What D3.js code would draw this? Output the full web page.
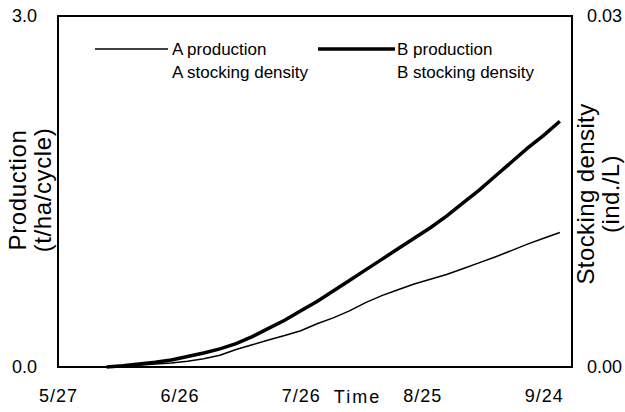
<!DOCTYPE html>
<html>
<head>
<meta charset="utf-8">
<script src="https://cdn.jsdelivr.net/npm/d3@7"></script>
<style>
  html, body { margin: 0; padding: 0; background: #fff; }
  svg { display: block; font-family: "Liberation Sans", Arial, sans-serif; }
</style>
</head>
<body>
<div id="chart"></div>
<script>
// Days elapsed since 5/27
const days = [12, 16, 20, 24, 28, 32, 36, 40, 44, 48, 52, 56, 60, 64, 68, 72, 76, 80, 84, 88, 92, 96, 100, 104, 108, 112, 116, 120, 124];

// Production (t/ha/cycle)
const productionA = [0.00, 0.005, 0.015, 0.025, 0.035, 0.05, 0.07, 0.10, 0.15, 0.19, 0.23, 0.27, 0.31, 0.37, 0.42, 0.48, 0.55, 0.61, 0.66, 0.71, 0.75, 0.79, 0.84, 0.89, 0.94, 0.995, 1.05, 1.10, 1.15];
const productionB = [0.00, 0.01, 0.025, 0.04, 0.06, 0.09, 0.12, 0.155, 0.20, 0.26, 0.33, 0.40, 0.48, 0.56, 0.65, 0.74, 0.83, 0.92, 1.01, 1.10, 1.19, 1.29, 1.40, 1.51, 1.63, 1.75, 1.87, 1.98, 2.10];

// Axis ticks
const xTickDays = [0, 30, 60, 90, 120];
const xTickLabels = ["5/27", "6/26", "7/26", "8/25", "9/24"];
const yLeftTicks = [0, 3];
const yRightTicks = [0, 0.03];

const legendLabels = ["A production", "B production", "A stocking density", "B stocking density"];

const W = 625, H = 412;
const m = { left: 58, right: 53, top: 16, bottom: 45 };

const svg = d3.select("#chart").append("svg")
  .attr("width", W).attr("height", H);

const x = d3.scaleLinear().domain([0, 127]).range([m.left, W - m.right]);
const y = d3.scaleLinear().domain([0, 3]).range([H - m.bottom, m.top]);
const y2 = d3.scaleLinear().domain([0, 0.03]).range([H - m.bottom, m.top]);

// Left axis labels
const gL = svg.append("g").attr("transform", `translate(${m.left},0)`)
  .call(d3.axisLeft(y).tickValues(yLeftTicks).tickFormat(d3.format(".1f")).tickSize(0).tickPadding(21));
gL.select(".domain").remove();
gL.selectAll("text").attr("font-size", 18).attr("font-family", "Liberation Sans, Arial, sans-serif").attr("fill", "#000");

// Right axis labels
const gR = svg.append("g").attr("transform", `translate(${W - m.right},0)`)
  .call(d3.axisRight(y2).tickValues(yRightTicks).tickFormat(d3.format(".2f")).tickSize(0).tickPadding(15));
gR.select(".domain").remove();
gR.selectAll("text").attr("font-size", 18).attr("font-family", "Liberation Sans, Arial, sans-serif").attr("fill", "#000");

// Bottom axis labels
const gB = svg.append("g").attr("transform", `translate(0,${H - m.bottom})`)
  .call(d3.axisBottom(x).tickValues(xTickDays).tickFormat((d, i) => xTickLabels[i]).tickSize(0).tickPadding(22));
gB.select(".domain").remove();
gB.selectAll("text").attr("font-size", 18).attr("letter-spacing", 1).attr("font-family", "Liberation Sans, Arial, sans-serif").attr("fill", "#000");

svg.append("text")
  .attr("x", (x(60) + x(90)) / 2 - 4).attr("y", 403)
  .attr("text-anchor", "middle").attr("font-size", 18).attr("letter-spacing", 2)
  .text("Time");

// Plot frame
svg.append("rect")
  .attr("x", m.left).attr("y", m.top)
  .attr("width", W - m.left - m.right).attr("height", H - m.top - m.bottom)
  .attr("fill", "none").attr("stroke", "#000").attr("stroke-width", 2);

// Axis titles
const leftT = svg.append("text")
  .attr("transform", `translate(26,190) rotate(-90)`)
  .attr("text-anchor", "middle").attr("font-size", 24).attr("letter-spacing", 0.6);
leftT.append("tspan").attr("x", 0).attr("y", 0).text("Production");
leftT.append("tspan").attr("x", 0).attr("y", 25).text("(t/ha/cycle)");

const rightT = svg.append("text")
  .attr("transform", `translate(594,194) rotate(-90)`)
  .attr("text-anchor", "middle").attr("font-size", 24).attr("letter-spacing", 0.4);
rightT.append("tspan").attr("x", 0).attr("y", 0).text("Stocking density");
rightT.append("tspan").attr("x", 0).attr("y", 25).text("(ind./L)");

// Production lines
const line = vals => d3.line()
  .x((d, i) => x(days[i]))
  .y(d => y(d))
  .curve(d3.curveLinear)(vals);

svg.append("path").attr("d", line(productionA))
  .attr("fill", "none").attr("stroke", "#000").attr("stroke-width", 1.5);
svg.append("path").attr("d", line(productionB))
  .attr("fill", "none").attr("stroke", "#000").attr("stroke-width", 3.5);

// Legend
const lg = svg.append("g").attr("font-size", 17);
lg.append("line").attr("x1", 95).attr("x2", 168).attr("y1", 49).attr("y2", 49)
  .attr("stroke", "#000").attr("stroke-width", 1.5);
lg.append("line").attr("x1", 318).attr("x2", 395).attr("y1", 49).attr("y2", 49)
  .attr("stroke", "#000").attr("stroke-width", 3.5);
lg.append("text").attr("x", 172).attr("y", 55).text(legendLabels[0]);
lg.append("text").attr("x", 397).attr("y", 55).text(legendLabels[1]);
lg.append("text").attr("x", 172).attr("y", 78).text(legendLabels[2]);
lg.append("text").attr("x", 397).attr("y", 78).text(legendLabels[3]);
</script>
</body>
</html>
